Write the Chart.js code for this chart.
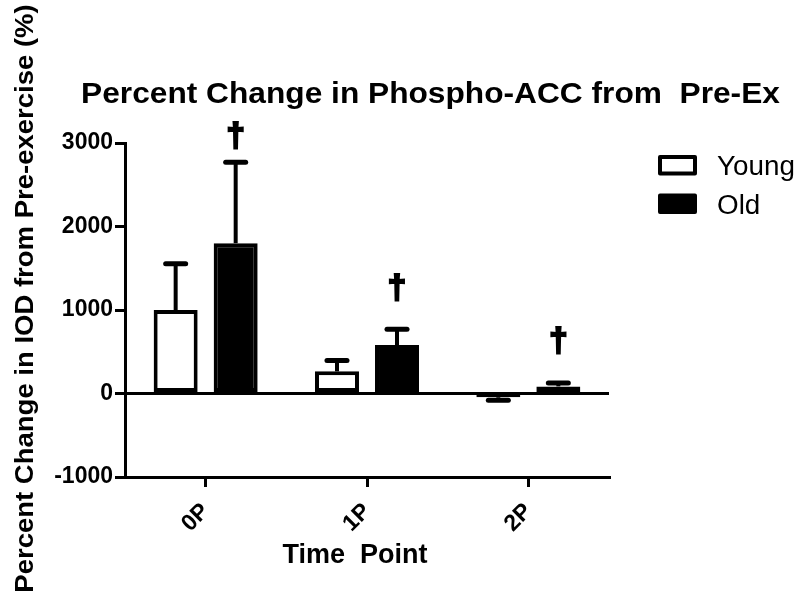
<!DOCTYPE html>
<html><head><meta charset="utf-8">
<script src="https://cdn.jsdelivr.net/npm/chart.js@4.4.0/dist/chart.umd.min.js"></script>
<style>html,body{margin:0;padding:0;background:#fff;}</style>
</head><body>
<canvas id="c" width="797" height="605" style="display:block;width:797px;height:605px"></canvas>
<script>
// ---- data ----
const categories = ['0P', '1P', '2P'];
const seriesNames = ['Young', 'Old'];
const youngMean = [1000, 265, -45];
const youngErr  = [555, 130, 35];
const oldMean   = [1800, 580, 85];
const oldErr    = [970, 190, 40];
const daggerLevel = [2917, 1095, 460];   // base level of the † markers above the Old bars
const yTickValues = [-1000, 0, 1000, 2000, 3000];
const chartTitle = 'Percent Change in Phospho-ACC from  Pre-Ex';
const xTitle = 'Time  Point';
const yTitle = 'Percent Change in IOD from Pre-exercise (%)';
const daggerText = '\u2020';

const FAMILY = '"Liberation Sans", Arial, Helvetica, sans-serif';
Chart.defaults.font.family = FAMILY;
Chart.defaults.color = '#000';

function drawText(ctx, text, x, y, font, sx, align, rot) {
  ctx.save();
  ctx.translate(x, y);
  if (rot) ctx.rotate(rot);
  ctx.scale(sx, 1);
  ctx.font = font;
  ctx.textAlign = align;
  ctx.textBaseline = 'alphabetic';
  ctx.fillStyle = '#000';
  ctx.fillText(text, 0, 0);
  ctx.restore();
}

const errors = [youngErr, oldErr];

const decorPlugin = {
  id: 'decor',
  afterDatasetsDraw(chart) {
    const ctx = chart.ctx;
    const ys = chart.scales.y;
    // error bars (direction away from zero)
    chart.data.datasets.forEach((ds, i) => {
      const meta = chart.getDatasetMeta(i);
      meta.data.forEach((bar, j) => {
        const v = ds.data[j];
        const e = errors[i][j];
        const end = ys.getPixelForValue(v + (v >= 0 ? e : -e));
        ctx.save();
        ctx.strokeStyle = '#000';
        ctx.lineWidth = 4;
        ctx.beginPath();
        ctx.moveTo(bar.x, bar.y);
        ctx.lineTo(bar.x, end);
        ctx.stroke();
        ctx.lineWidth = 5;
        ctx.lineCap = 'round';
        ctx.beginPath();
        ctx.moveTo(bar.x - 10, end);
        ctx.lineTo(bar.x + 10, end);
        ctx.stroke();
        ctx.restore();
      });
    });
    // dagger markers over Old bars
    const oldMeta = chart.getDatasetMeta(1);
    oldMeta.data.forEach((bar, j) => {
      const base = ys.getPixelForValue(daggerLevel[j]);
      ctx.save();
      ctx.font = 'bold 33px ' + FAMILY;
      ctx.textAlign = 'center';
      ctx.textBaseline = 'alphabetic';
      const m = ctx.measureText(daggerText);
      ctx.fillStyle = '#000';
      ctx.strokeStyle = '#000';
      ctx.lineWidth = 2.2;
      const ty = base - (m.actualBoundingBoxDescent || 0) - 1;
      ctx.fillText(daggerText, bar.x, ty);
      ctx.strokeText(daggerText, bar.x, ty);
      ctx.restore();
    });
  },
  afterDraw(chart) {
    const ctx = chart.ctx;
    // title
    drawText(ctx, chartTitle, 430.5, 103, 'bold 30px ' + FAMILY, 1.056, 'center', 0);
    // axis titles
    drawText(ctx, yTitle, 33, 298.5, 'bold 25px ' + FAMILY, 1.10, 'center', -Math.PI / 2);
    drawText(ctx, xTitle, 355, 563, 'bold 27px ' + FAMILY, 1.0, 'center', 0);
    // legend
    const boxes = [[658, 155], [658, 193.5]];
    chart.data.datasets.forEach((ds, i) => {
      const [bx, by] = boxes[i];
      ctx.save();
      ctx.fillStyle = ds.backgroundColor;
      ctx.strokeStyle = '#000';
      ctx.lineWidth = 4;
      ctx.lineJoin = 'round';
      ctx.beginPath();
      ctx.rect(bx + 2, by + 2, 35, 16.5);
      ctx.fill();
      ctx.stroke();
      ctx.restore();
      drawText(ctx, ds.label, 717, by + 20, '27px ' + FAMILY, 1.03, 'left', 0);
    });
  }
};

new Chart(document.getElementById('c'), {
  type: 'bar',
  data: {
    labels: categories,
    datasets: [
      { label: seriesNames[0], data: youngMean, backgroundColor: '#ffffff', borderColor: '#000', borderWidth: 4, borderSkipped: false },
      { label: seriesNames[1], data: oldMean, backgroundColor: '#000000', borderColor: '#000', borderWidth: 4, borderSkipped: false }
    ]
  },
  options: {
    responsive: false,
    animation: false,
    devicePixelRatio: 1,
    barPercentage: 0.733,
    categoryPercentage: 0.744,
    layout: { padding: { left: 0, top: 143, right: 188, bottom: 0 } },
    plugins: { legend: { display: false }, title: { display: false }, tooltip: { enabled: false } },
    scales: {
      x: {
        offset: true,
        afterFit: s => { s.height = 128; },
        ticks: { font: { size: 23, weight: 'bold' }, color: '#000', minRotation: 45, maxRotation: 45, autoSkip: false, padding: 11 },
        grid: { offset: false, drawOnChartArea: false, drawTicks: true, tickLength: 10, color: '#000', lineWidth: 3 },
        border: { display: true, color: '#000', width: 3 }
      },
      y: {
        min: -1000, max: 3000,
        afterBuildTicks: s => { s.ticks = yTickValues.map(v => ({ value: v })); },
        afterFit: s => { s.width = 125; },
        ticks: { font: { size: 23, weight: 'bold' }, color: '#000', padding: 2, callback: v => String(v) },
        grid: {
          drawOnChartArea: true, drawTicks: true, tickLength: 10,
          color: c => (c.tick && c.tick.value === 0) ? '#000' : 'rgba(0,0,0,0)',
          lineWidth: 3, tickColor: '#000', tickWidth: 3
        },
        border: { display: true, color: '#000', width: 3 }
      }
    }
  },
  plugins: [decorPlugin]
});
</script>
</body></html>
